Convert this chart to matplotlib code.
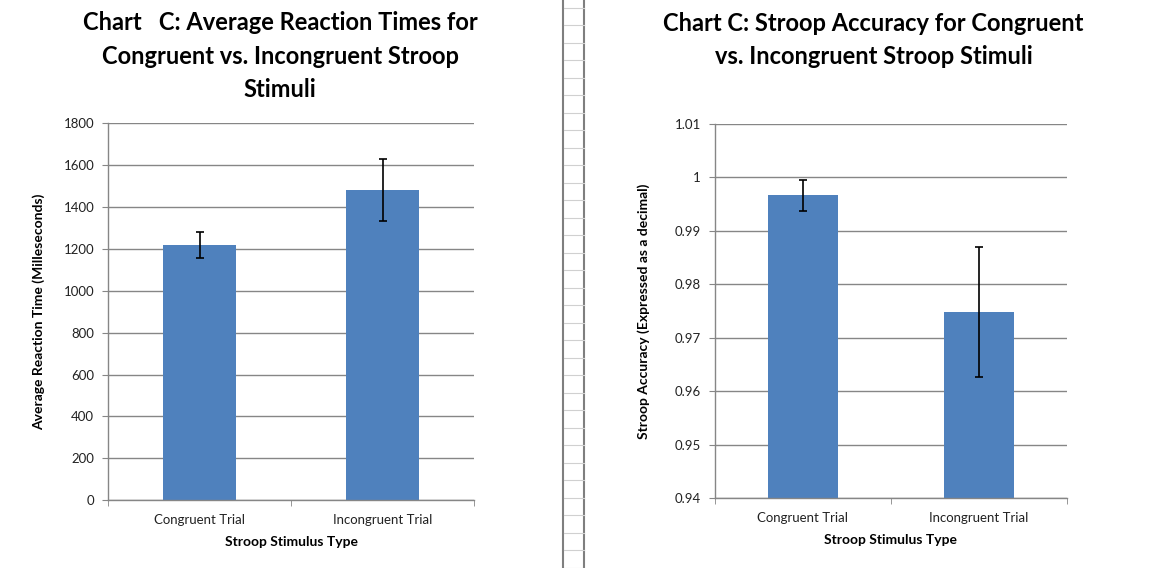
import matplotlib.pyplot as plt
from matplotlib.lines import Line2D
import numpy as np

plt.rcParams['font.family'] = ['Lato', 'DejaVu Sans']

categories = ['Congruent Trial', 'Incongruent Trial']
rt_means = [1219, 1482]
rt_err = [60, 150]
acc_means = [0.9967, 0.9748]
acc_err = [0.0029, 0.0121]

bar_color = '#4F81BD'
grid_color = '#868686'

fig = plt.figure(figsize=(11.59, 5.68), dpi=100)
ax1 = fig.add_axes([0.0932, 0.1197, 0.3158, 0.6629])
ax2 = fig.add_axes([0.6169, 0.1232, 0.3037, 0.6585])


def style_axis(ax, means, errs, ylim, yticks, yfmt, ylabel, title, tpad, ypad):
    x = np.arange(len(categories))
    ax.bar(x, means, width=0.4, color=bar_color, zorder=2)
    ax.errorbar(x, means, yerr=errs, fmt='none', ecolor='black',
                elinewidth=1.2, capsize=3.2, capthick=1.2, zorder=3)
    ax.set_xlim(-0.5, len(categories) - 0.5)
    ax.set_ylim(*ylim)
    ax.set_yticks(yticks)
    ax.set_yticklabels([yfmt(v) for v in yticks])
    ax.set_xticks(x)
    ax.set_xticklabels(categories)
    ax.set_xticks(np.arange(len(categories) + 1) - 0.5, minor=True)
    ax.tick_params(axis='x', which='major', length=0, pad=10, labelsize=9.5,
                   colors='#222222')
    ax.tick_params(axis='x', which='minor', length=4, color=grid_color)
    ax.tick_params(axis='y', length=4, color=grid_color, labelsize=9.5,
                   labelcolor='#222222', pad=6)
    ax.grid(axis='y', color=grid_color, linewidth=1, zorder=0)
    for s in ['top', 'right']:
        ax.spines[s].set_visible(False)
    for s in ['left', 'bottom']:
        ax.spines[s].set_color(grid_color)
        ax.spines[s].set_linewidth(1)
    ax.set_xlabel('Stroop Stimulus Type', fontsize=10, fontweight='bold',
                  labelpad=7)
    ax.set_ylabel(ylabel, fontsize=10, fontweight='bold', labelpad=ypad)
    ax.set_title(title, fontsize=17, fontweight='bold', pad=tpad,
                 linespacing=1.55)


style_axis(ax1, rt_means, rt_err, (0, 1800), np.arange(0, 1801, 200),
           lambda v: '%d' % v, 'Average Reaction Time (Milleseconds)',
           'Chart   C: Average Reaction Times for\nCongruent vs. Incongruent Stroop\nStimuli',
           19, 13)
style_axis(ax2, acc_means, acc_err, (0.94, 1.01),
           [0.94, 0.95, 0.96, 0.97, 0.98, 0.99, 1.0, 1.01],
           lambda v: ('%g' % round(v, 2)), 'Stroop Accuracy (Expressed as a decimal)',
           'Chart C: Stroop Accuracy for Congruent\nvs. Incongruent Stroop Stimuli',
           43, 18)
ax1.title.set_position((0.47, 1.0))
ax2.title.set_position((0.45, 1.0))

# spreadsheet column between the two charts
W, H = 1159, 568
for xp in [563, 584]:
    fig.add_artist(Line2D([xp / W, xp / W], [0, 1], color='#7f7f7f',
                          linewidth=1.5, transform=fig.transFigure))
for yp in np.arange(7.7, H, 17.5):
    fig.add_artist(Line2D([564 / W, 584 / W], [1 - yp / H, 1 - yp / H],
                          color='#d0d0d0', linewidth=0.8,
                          transform=fig.transFigure))

fig.savefig('out.png', dpi=100)
